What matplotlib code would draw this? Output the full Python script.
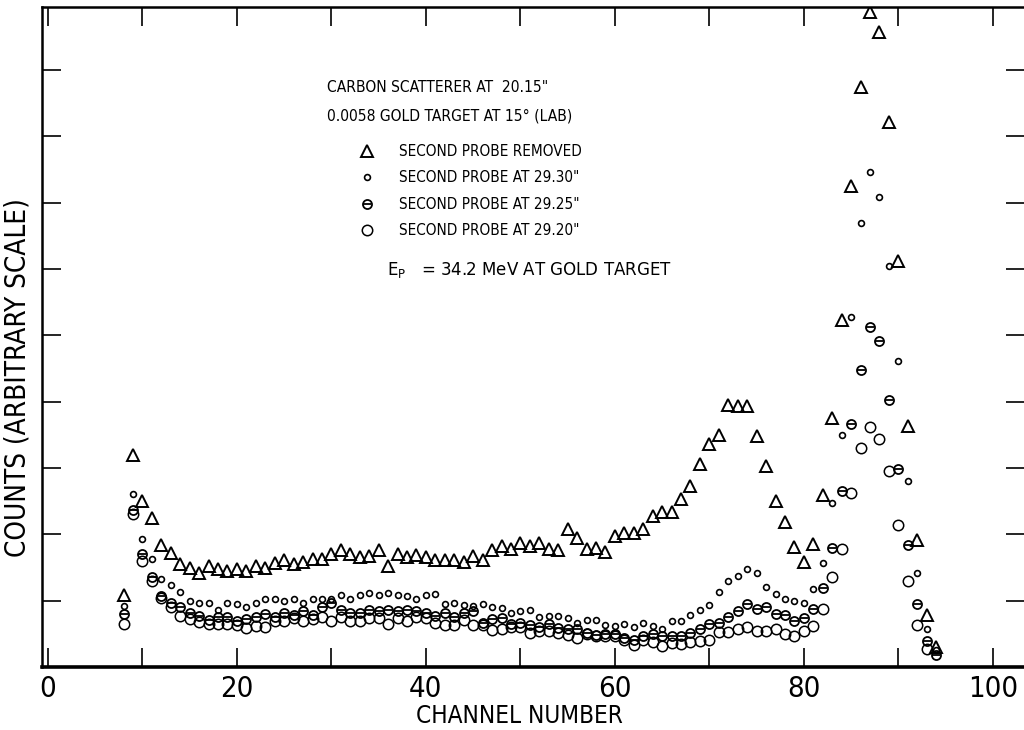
import numpy as np
import matplotlib
matplotlib.use("Agg")
import matplotlib.pyplot as plt
from matplotlib.ticker import MultipleLocator, FuncFormatter

plt.rcParams['font.family'] = ['DejaVu Sans']
plt.rcParams['font.stretch'] = 'condensed'

# channel numbers and counts
chan = list(range(8, 95))

removed = [1.08, 3.19, 2.51, 2.24, 1.84, 1.72, 1.55, 1.50, 1.42, 1.52,
           1.48, 1.44, 1.47, 1.44, 1.52, 1.50, 1.57, 1.61, 1.55, 1.58,
           1.63, 1.63, 1.71, 1.76, 1.70, 1.66, 1.68, 1.76, 1.53, 1.71,
           1.66, 1.69, 1.66, 1.62, 1.62, 1.62, 1.58, 1.68, 1.62, 1.77,
           1.82, 1.78, 1.87, 1.82, 1.87, 1.78, 1.76, 2.08, 1.95, 1.78,
           1.80, 1.73, 1.98, 2.02, 2.02, 2.08, 2.27, 2.33, 2.33, 2.54,
           2.73, 3.06, 3.36, 3.50, 3.95, 3.93, 3.93, 3.48, 3.03, 2.51,
           2.19, 1.81, 1.59, 1.85, 2.59, 3.76, 5.23, 7.25, 8.74, 9.87,
           9.58, 8.22, 6.12, 3.64, 1.91, 0.79, 0.30]

at_2930 = [0.92, 2.61, 1.93, 1.63, 1.33, 1.23, 1.13, 0.99, 0.97, 0.97,
           0.86, 0.97, 0.95, 0.90, 0.97, 1.02, 1.02, 1.00, 1.02, 0.97,
           1.03, 1.03, 1.02, 1.08, 1.03, 1.08, 1.11, 1.08, 1.12, 1.08,
           1.07, 1.03, 1.08, 1.10, 0.95, 0.97, 0.94, 0.92, 0.95, 0.91,
           0.89, 0.81, 0.84, 0.86, 0.75, 0.77, 0.77, 0.74, 0.67, 0.71,
           0.71, 0.64, 0.62, 0.65, 0.60, 0.66, 0.62, 0.58, 0.69, 0.70,
           0.78, 0.86, 0.93, 1.13, 1.29, 1.37, 1.48, 1.41, 1.21, 1.10,
           1.03, 0.99, 0.97, 1.17, 1.57, 2.47, 3.50, 5.28, 6.69, 7.47,
           7.09, 6.04, 4.62, 2.80, 1.42, 0.58, 0.25]

at_2925 = [0.80, 2.36, 1.70, 1.35, 1.07, 0.97, 0.91, 0.82, 0.77, 0.71,
           0.75, 0.76, 0.69, 0.73, 0.76, 0.80, 0.76, 0.82, 0.79, 0.85,
           0.79, 0.90, 0.97, 0.86, 0.81, 0.81, 0.86, 0.85, 0.86, 0.85,
           0.86, 0.84, 0.81, 0.77, 0.82, 0.75, 0.82, 0.85, 0.66, 0.72,
           0.74, 0.65, 0.67, 0.64, 0.61, 0.65, 0.59, 0.57, 0.57, 0.51,
           0.48, 0.50, 0.50, 0.43, 0.40, 0.47, 0.50, 0.47, 0.46, 0.46,
           0.51, 0.57, 0.65, 0.66, 0.75, 0.85, 0.95, 0.88, 0.91, 0.80,
           0.79, 0.69, 0.74, 0.87, 1.19, 1.79, 2.65, 3.67, 4.48, 5.13,
           4.92, 4.03, 2.98, 1.84, 0.95, 0.39, 0.18]

chan_2920 = list(range(8, 94))
at_2920 = [0.65, 2.30, 1.60, 1.29, 1.04, 0.90, 0.77, 0.72, 0.68, 0.65,
           0.65, 0.65, 0.63, 0.59, 0.62, 0.60, 0.69, 0.69, 0.74, 0.69,
           0.72, 0.75, 0.70, 0.75, 0.69, 0.69, 0.74, 0.74, 0.65, 0.74,
           0.69, 0.75, 0.74, 0.67, 0.64, 0.64, 0.71, 0.64, 0.64, 0.56,
           0.57, 0.60, 0.61, 0.51, 0.54, 0.54, 0.51, 0.48, 0.43, 0.50,
           0.46, 0.46, 0.46, 0.41, 0.33, 0.40, 0.37, 0.32, 0.36, 0.34,
           0.37, 0.39, 0.40, 0.53, 0.53, 0.57, 0.60, 0.55, 0.55, 0.57,
           0.50, 0.46, 0.55, 0.62, 0.88, 1.36, 1.78, 2.63, 3.30, 3.62,
           3.44, 2.96, 2.14, 1.29, 0.64, 0.27]

labels = ['SECOND PROBE REMOVED', 'SECOND PROBE AT 29.30"',
          'SECOND PROBE AT 29.25"', 'SECOND PROBE AT 29.20"']

fig = plt.figure(figsize=(10.24, 7.3), dpi=100)
ax = fig.add_axes([42/1024, 63/730, 983/1024, 660/730])

k = 'black'
h1, = ax.plot(chan, removed, '^', ms=8, mfc='none', mec=k, mew=1.4, ls='none')
h2, = ax.plot(chan, at_2930, 'o', ms=4.2, mfc='none', mec=k, mew=1.2, ls='none')
h3a, = ax.plot(chan, at_2925, 'o', ms=6.5, mfc='none', mec=k, mew=1.3, ls='none')
h3b, = ax.plot(chan, at_2925, '_', ms=6.0, mec=k, mew=1.3, ls='none')
h4, = ax.plot(chan_2920, at_2920, 'o', ms=7.5, mfc='none', mec=k, mew=1.1, ls='none')

ax.set_xlim(-0.63, 103.4)
ax.set_ylim(0, 9.95)

ax.xaxis.set_major_locator(MultipleLocator(10))
ax.xaxis.set_major_formatter(FuncFormatter(lambda v, p: '%d' % v if int(round(v)) % 20 == 0 else ''))
ax.yaxis.set_major_locator(MultipleLocator(1))
ax.tick_params(direction='in', length=14, width=1.2, top=True, right=True,
               labelsize=21, pad=6)
ax.tick_params(axis='y', labelleft=False)

for s in ['left', 'top']:
    ax.spines[s].set_linewidth(1.8)
ax.spines['bottom'].set_linewidth(2.6)

ax.set_xlabel('CHANNEL NUMBER', fontsize=17.5)
ax.xaxis.set_label_coords((519 - 42) / 983, -(716 - 667) / 660)
ax.xaxis.label.set_va('center')
ax.set_ylabel('COUNTS (ARBITRARY SCALE)', fontsize=20)
ax.yaxis.set_label_coords(-(42 - 18) / 983, (667 - 378) / 660)
ax.yaxis.label.set_va('center')

ax.text(327/1024, 1 - 87/730, 'CARBON SCATTERER AT  20.15"', transform=fig.transFigure,
        fontsize=11.2, va='center', ha='left')
ax.text(327/1024, 1 - 116/730, '0.0058 GOLD TARGET AT 15\u00b0 (LAB)', transform=fig.transFigure,
        fontsize=11.2, va='center', ha='left')

fig.legend([h1, h2, (h3a, h3b), h4], labels, loc='upper left',
           bbox_to_anchor=(358/1024, 1 - 144/730), bbox_transform=fig.transFigure,
           frameon=False, fontsize=11, numpoints=1, handlelength=1.2,
           handletextpad=1.5, labelspacing=0.75, borderpad=0, borderaxespad=0)

ax.text(387/1024, 1 - 270/730, r'E$_\mathregular{P}$   = 34.2 MeV AT GOLD TARGET',
        transform=fig.transFigure, fontsize=13.3, va='center', ha='left')

fig.savefig('out.png', dpi=100)
